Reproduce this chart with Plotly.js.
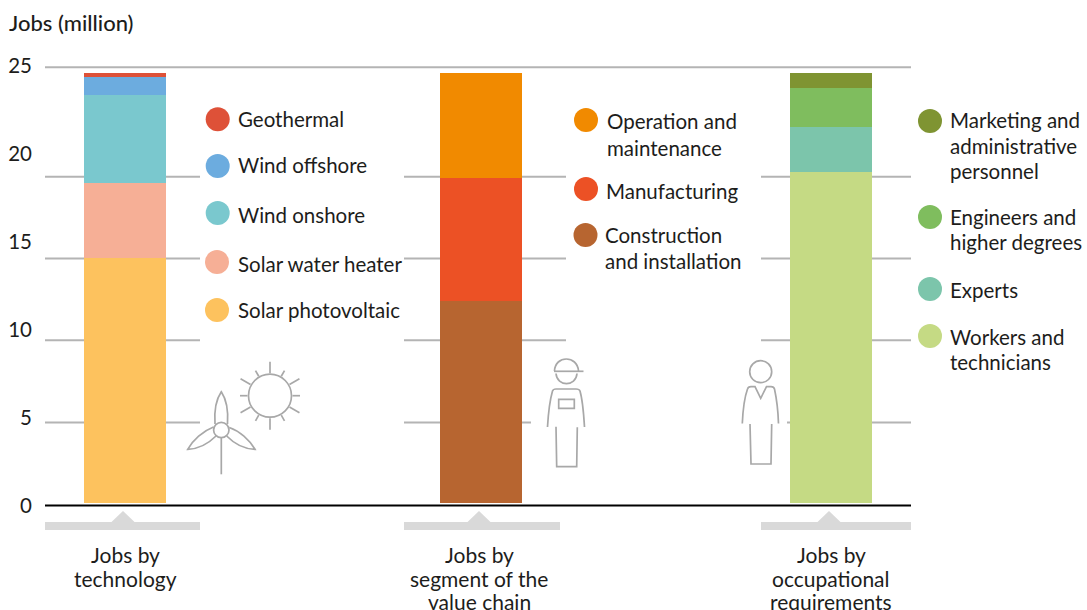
<!DOCTYPE html>
<html>
<head>
<meta charset="utf-8">
<script src="https://cdn.plot.ly/plotly-3.0.1.min.js"></script>
<style>html,body{margin:0;padding:0;background:#fff;overflow:hidden}#chart{width:1087px;height:610px}</style>
</head>
<body>
<div id="chart"></div>
<script>
// ---- data (million jobs) ----
const techNames = ["Solar photovoltaic", "Solar water heater", "Wind onshore", "Wind offshore", "Geothermal"];
const techValues = [13.94, 4.27, 5.0, 1.02, 0.23];
const techColors = ["#FDC25E", "#F6AF96", "#7AC8CE", "#6CACDF", "#DE5138"];
const segmentNames = ["Construction and installation", "Manufacturing", "Operation and maintenance"];
const segmentValues = [11.49, 7.0, 5.97];
const segmentColors = ["#B76530", "#EC5125", "#F18A00"];
const occupationNames = ["Workers and technicians", "Experts", "Engineers and higher degrees", "Marketing and administrative personnel"];
const occupationValues = [18.83, 2.56, 2.22, 0.85];
const occupationColors = ["#C5DA84", "#7CC5AB", "#7FBD5E", "#7F9432"];
const yTicks = [0, 5, 10, 15, 20, 25];
const gridLevels = [24.93, 18.7, 14.05, 9.4, 4.72];

// ---- layout constants ----
const W = 1087, H = 610, LEFT = 33;
const PX_PER_UNIT = 17.58, ZERO_PX = 505.5;
const barCentres = [125, 481, 831];
const BAR_W = 82, BAR_LIFT = 0.14;
const FONT = "Lato, 'Open Sans', sans-serif";
const TXT = "#1d1d1b", ICON = "#a8a8a8", GRID = "#b4b4b4", BRACKET = "#d9d9d9";

const px = x => (x - LEFT) / (W - LEFT);
const py = y => 1 - y / H;
const pathOf = pts => pts.map(p => typeof p === "string" ? p : (px(p[0]) + "," + py(p[1]))).join(" ");

// ---- bars ----
const traces = [];
function addStack(names, values, colors, col) {
  let base = BAR_LIFT;
  values.forEach((v, i) => {
    traces.push({type: "bar", name: names[i], x: [barCentres[col]], y: [v], base: [base], width: [BAR_W],
      marker: {color: colors[i], line: {width: 0}}, hoverinfo: "skip"});
    base += v;
  });
}
addStack(techNames, techValues, techColors, 0);
addStack(segmentNames, segmentValues, segmentColors, 1);
addStack(occupationNames, occupationValues, occupationColors, 2);

// ---- shapes ----
const shapes = [];
const gridSegs = [
  [[45, 911]],
  [[45, 200], [404, 566], [761, 911]],
  [[45, 200], [404, 566], [761, 911]],
  [[45, 200], [404, 566], [761, 911]],
  [[45, 200], [404, 531], [787, 911]]
];
gridLevels.forEach((lvl, i) => gridSegs[i].forEach(s => shapes.push({
  type: "line", layer: "below", xref: "x", yref: "y", x0: s[0], x1: s[1], y0: lvl, y1: lvl,
  line: {color: GRID, width: 2}
})));
shapes.push({type: "line", layer: "above", xref: "x", yref: "y", x0: 45, x1: 911, y0: 0, y1: 0, line: {color: "#000", width: 2}});

// brackets under bars
[[45, 200, 123], [404, 560, 479], [761, 911, 829]].forEach(b => {
  shapes.push({type: "path", xref: "paper", yref: "paper", fillcolor: BRACKET, line: {width: 0},
    path: "M" + pathOf([[b[0], 522], "L", [b[2] - 11.5, 522], "L", [b[2], 511], "L", [b[2] + 11.5, 522], "L", [b[1], 522], "L", [b[1], 530], "L", [b[0], 530]]) + " Z"});
});

// outline helpers for the pictograms
function stroke(d) {
  shapes.push({type: "path", xref: "paper", yref: "paper", fillcolor: "rgba(0,0,0,0)", path: d, line: {color: ICON, width: 1.7}});
}
function ring(cx, cy, r) {
  shapes.push({type: "circle", xref: "paper", yref: "paper", x0: px(cx - r), x1: px(cx + r), y0: py(cy + r), y1: py(cy - r),
    fillcolor: "rgba(255,255,255,0)", line: {color: ICON, width: 1.7}});
}
const M = p => "M" + pathOf([p]);
const L = (...ps) => ps.map(p => "L" + pathOf([p])).join(" ");
const C = (a, b, c) => "C" + pathOf([a]) + " " + pathOf([b]) + " " + pathOf([c]);

// sun
ring(270, 395.7, 21.5);
[[0, 30], [30, 34], [60, 29], [90, 34], [120, 29], [150, 34], [180, 30], [210, 34], [240, 29], [270, 34], [300, 29], [330, 34]].forEach(r => {
  const a = r[0] * Math.PI / 180;
  const c = Math.cos(a), s = Math.sin(a);
  stroke(M([270 + 22.5 * c, 395.7 - 22.5 * s]) + " " + L([270 + r[1] * c, 395.7 - r[1] * s]));
});
// wind turbine
ring(221.3, 430, 7.7);
stroke(M([221.3, 437.7]) + " " + L([221.3, 474.3]));
stroke(M([215, 424]) + " " + C([214, 410], [217, 398], [221.3, 391.7]) + " " + C([225.5, 398], [228.5, 410], [227.5, 424]));
stroke(M([213.5, 427]) + " " + C([203, 431], [193, 440], [187.7, 449.3]) + " " + C([199, 449], [209, 443], [216, 436]));
stroke(M([229.3, 427.5]) + " " + C([239.5, 431], [249.5, 440], [255, 449.3]) + " " + C([243.5, 449], [233.5, 443], [226.7, 436]));
// worker
stroke(M([554, 371.3]) + " " + L([583.5, 371.3]));
stroke(M([554.5, 371]) + " " + C([555, 355], [577.5, 355], [578.5, 371]));
stroke(M([556, 373.5]) + " " + C([557, 387], [576, 387], [577, 373.5]));
stroke(M([547.5, 427]) + " " + C([548.5, 410], [550.5, 398], [552.5, 391]) + " " + C([553, 389.5], [554, 389], [556, 389]) + " " + L([576, 389]) + " " + C([578, 389], [579.5, 389.5], [580, 391]) + " " + C([582, 398], [583.5, 410], [584.5, 427]));
stroke(M([558.7, 399.3]) + " " + L([574.3, 399.3], [574.3, 408.3], [558.7, 408.3]) + " Z");
stroke(M([556, 426.7]) + " " + L([556.7, 466.7], [576.7, 466.7], [577.3, 427.3]));
// person
ring(760.7, 371.7, 11);
stroke(M([742.3, 423.5]) + " " + C([743, 408], [745, 396], [747.5, 389]) + " " + C([748, 387], [749, 386.7], [751, 386.7]) + " " + L([755, 386.7], [760.7, 398.3], [766.5, 386.7], [771, 386.7]) + " " + C([773, 386.7], [774, 387], [774.5, 389]) + " " + C([776, 396], [778, 408], [778.5, 423.5]));
stroke(M([750, 424]) + " " + L([751, 464], [771, 464], [771.7, 424]));

// ---- text + legend dots ----
const annotations = [];
function text(x, y, t, anchor, size, weight) {
  annotations.push({xref: "paper", yref: "paper", x: px(x), y: py(y), text: t, showarrow: false,
    xanchor: anchor, yanchor: "middle", align: anchor === "center" ? "center" : "left",
    borderpad: 0, font: {family: FONT, size: size, color: TXT, weight: weight || 400}});
}
function dot(cx, cy, color) {
  shapes.push({type: "circle", xref: "paper", yref: "paper", x0: px(cx - 12), x1: px(cx + 12), y0: py(cy + 12), y1: py(cy - 12),
    fillcolor: color, line: {width: 0}});
}
function entry(cx, cy, color, tx, tys, lines) {
  dot(cx, cy, color);
  lines.forEach((l, i) => text(tx - 1, tys[i] - 0.5, l, "left", 20.5));
}
function group(cx, lines) {
  lines.forEach((l, i) => text(cx, [554, 578, 601][i], l, "center", 21));
}

text(8, 22.5, "Jobs (million)", "left", 22, 500);

entry(217.7, 119.3, techColors[4], 238, [119], [techNames[4]]);
entry(217.7, 166, techColors[3], 238, [166], [techNames[3]]);
entry(217.7, 213, techColors[2], 238, [215], [techNames[2]]);
entry(217, 262, techColors[1], 238, [264], [techNames[1]]);
entry(217, 310, techColors[0], 238, [310], [techNames[0]]);

entry(586, 120, segmentColors[2], 607, [122, 148], ["Operation and", "maintenance"]);
entry(586, 189, segmentColors[1], 606, [191], [segmentNames[1]]);
entry(585.5, 235, segmentColors[0], 605, [235, 261], ["Construction", "and installation"]);

entry(930, 121, occupationColors[3], 950, [120, 146, 171], ["Marketing and", "administrative", "personnel"]);
entry(930, 217, occupationColors[2], 950, [217, 243], ["Engineers and", "higher degrees"]);
entry(930, 289, occupationColors[1], 950, [290], [occupationNames[1]]);
entry(930, 336, occupationColors[0], 950, [337, 362], ["Workers and", "technicians"]);

group(125, ["Jobs by", "technology"]);
group(479, ["Jobs by", "segment of the", "value chain"]);
group(831, ["Jobs by", "occupational", "requirements"]);

// ---- plot ----
const layout = {
  width: W, height: H,
  margin: {l: LEFT, r: 0, t: 0, b: 0, pad: 0},
  paper_bgcolor: "#fff", plot_bgcolor: "rgba(0,0,0,0)",
  showlegend: false, barmode: "overlay", hovermode: false,
  xaxis: {range: [LEFT, W], visible: false, fixedrange: true},
  yaxis: {
    range: [-(H - ZERO_PX) / PX_PER_UNIT, ZERO_PX / PX_PER_UNIT],
    tickmode: "array", tickvals: yTicks, ticktext: yTicks.map(String),
    showgrid: false, zeroline: false, showline: false, ticks: "", fixedrange: true, automargin: false,
    tickfont: {family: FONT, size: 20.5, color: TXT}
  },
  shapes: shapes, annotations: annotations
};
Plotly.newPlot("chart", traces, layout, {displayModeBar: false, staticPlot: true});
</script>
</body>
</html>
